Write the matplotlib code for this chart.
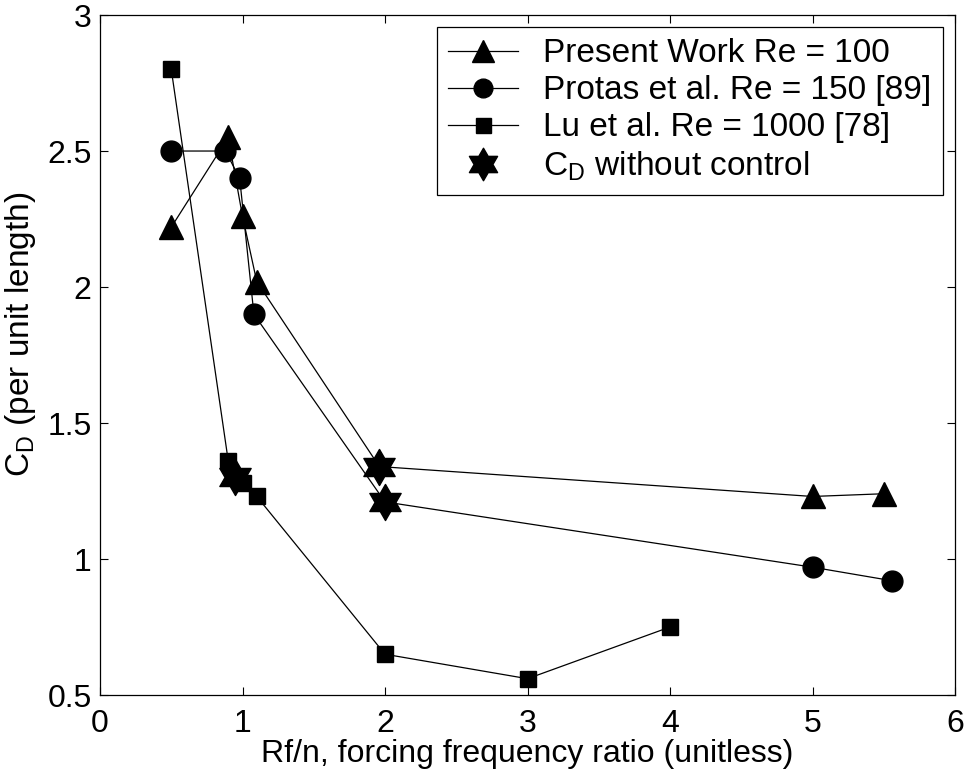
import numpy as np
import matplotlib
matplotlib.use("Agg")
import matplotlib.pyplot as plt
from matplotlib.path import Path

plt.rcParams['font.family'] = ['Liberation Sans', 'DejaVu Sans']

# Drag coefficient vs forcing frequency ratio
present_x = [0.5, 0.9, 1.0, 1.1, 1.96, 5.0, 5.5]
present_y = [2.22, 2.55, 2.26, 2.02, 1.34, 1.23, 1.24]

protas_x = [0.5, 0.88, 0.98, 1.08, 2.0, 5.0, 5.56]
protas_y = [2.50, 2.50, 2.40, 1.90, 1.21, 0.97, 0.92]

lu_x = [0.5, 0.9, 1.0, 1.1, 2.0, 3.0, 4.0]
lu_y = [2.80, 1.36, 1.28, 1.23, 0.65, 0.56, 0.75]

# unforced drag for each case
nocontrol_x = [0.95, 1.96, 2.0]
nocontrol_y = [1.30, 1.34, 1.21]

# six-pointed star marker
ang = np.pi / 2 + np.arange(12) * np.pi / 6
rad = np.where(np.arange(12) % 2 == 0, 1.0, 1.0 / np.sqrt(3))
verts = np.column_stack([rad * np.cos(ang), rad * np.sin(ang)])
verts = np.vstack([verts, verts[:1]])
hexagram = Path(verts, [Path.MOVETO] + [Path.LINETO] * 11 + [Path.CLOSEPOLY])

fig = plt.figure(figsize=(9.73, 7.75), dpi=100)
ax = fig.add_axes([0.1028, 0.1032, 0.8787, 0.8774])

lw = 0.9
skip = [0, 1, 2, 3, 5, 6]
ax.plot(present_x, present_y, '-', color='black', lw=lw, marker='^', ms=17,
        markevery=skip, label='Present Work Re = 100')
ax.plot(protas_x, protas_y, '-', color='black', lw=lw, marker='o', ms=15,
        markevery=skip, label='Protas et al. Re = 150 [89]')
ax.plot(lu_x, lu_y, '-', color='black', lw=lw, marker='s', ms=12,
        label='Lu et al. Re = 1000 [78]')
ax.plot(nocontrol_x, nocontrol_y, ls='none', color='black', marker=hexagram,
        ms=26, label='C$_\\mathregular{D}$ without control')

ax.set_xlim(0, 6)
ax.set_ylim(0.5, 3)
ax.set_xticks([0, 1, 2, 3, 4, 5, 6])
ax.set_yticks([0.5, 1, 1.5, 2, 2.5, 3])
ax.set_yticklabels(['0.5', '1', '1.5', '2', '2.5', '3'])
ax.tick_params(direction='in', top=True, right=True, length=6, width=0.8,
               labelsize=23)
ax.tick_params(axis='x', pad=10)
ax.tick_params(axis='y', pad=6)
for s in ax.spines.values():
    s.set_linewidth(0.9)

ax.set_xlabel('Rf/n, forcing frequency ratio (unitless)', fontsize=23, labelpad=0)
ax.set_ylabel('C$_\\mathregular{D}$ (per unit length)', fontsize=24)
ax.yaxis.set_label_coords(-0.072, 0.53)

leg = ax.legend(loc='upper right', fontsize=24, frameon=True, fancybox=False,
                edgecolor='black', framealpha=1, labelspacing=0.18,
                handlelength=2.1, handletextpad=0.75, borderpad=0.35,
                borderaxespad=0.35, markerscale=0.9)
leg.get_frame().set_linewidth(0.9)

fig.savefig('out.png', dpi=100)
